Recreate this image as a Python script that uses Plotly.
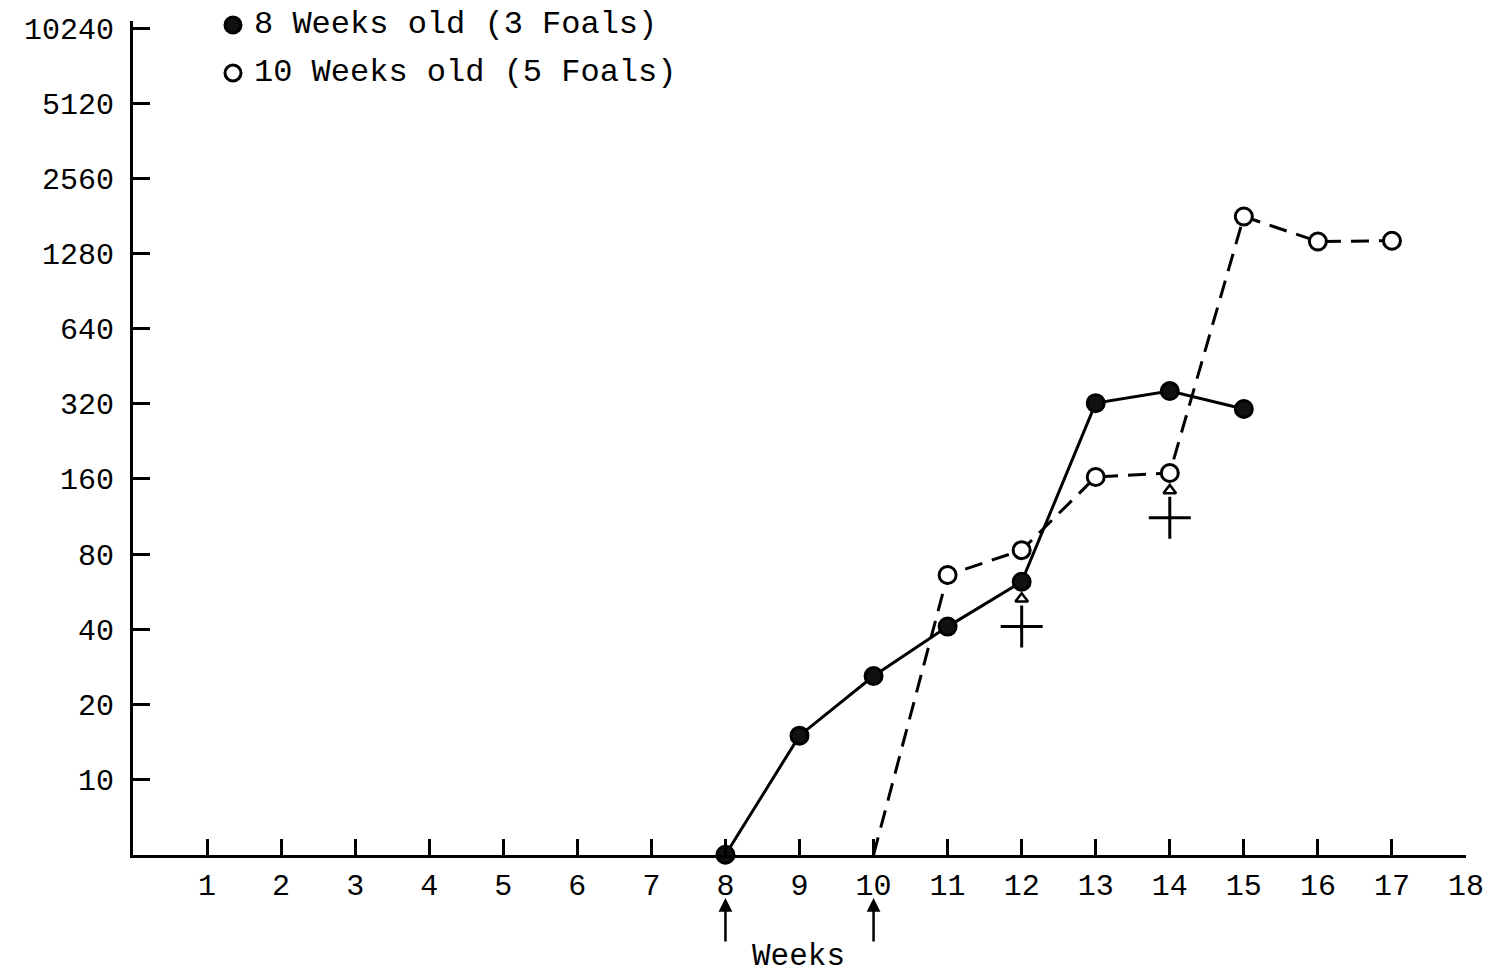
import math
import plotly.graph_objects as go

# ---- data ----
weeks_8wk = [8, 9, 10, 11, 12, 13, 14, 15]
titer_8wk = [5, 15, 26, 41, 62, 322, 360, 305]

weeks_10wk = [10, 11, 12, 13, 14, 15, 16, 17]
titer_10wk = [5, 66, 83, 163, 169, 1800, 1430, 1440]

death_weeks = [12, 14]
death_triangle_titer = [53, 144]
death_cross_titer = [41, 112]

vacc_weeks = [8, 10]

y_tick_vals = [10, 20, 40, 80, 160, 320, 640, 1280, 2560, 5120, 10240]
x_tick_vals = list(range(1, 19))

legend_labels = ["8 Weeks old (3 Foals)", "10 Weeks old (5 Foals)"]

FONT = "Liberation Mono"
BLACK = "#000000"

L, R, T, B = 133, 27, 21, 120
W, H = 1493, 975
PW, PH = W - L - R, H - T - B


def px_to_xdata(px):
    return (px - L) / PW * 18


def py_to_paper(py):
    return (H - B - py) / PH


fig = go.Figure()

# 8-week series (solid)
fig.add_trace(go.Scatter(
    x=weeks_8wk, y=titer_8wk, mode="lines",
    line=dict(color=BLACK, width=3),
    cliponaxis=False, showlegend=False))
fig.add_trace(go.Scatter(
    x=weeks_8wk, y=titer_8wk, mode="markers",
    marker=dict(symbol="circle", size=17, color="#111111",
                line=dict(color=BLACK, width=3)),
    cliponaxis=False, showlegend=False))

# 10-week series (dashed)
fig.add_trace(go.Scatter(
    x=weeks_10wk, y=titer_10wk, mode="lines",
    line=dict(color=BLACK, width=3, dash="18px,10px"),
    cliponaxis=False, showlegend=False))
fig.add_trace(go.Scatter(
    x=weeks_10wk[1:], y=titer_10wk[1:], mode="markers",
    marker=dict(symbol="circle", size=17, color="white",
                line=dict(color=BLACK, width=3)),
    cliponaxis=False, showlegend=False))

# death marks: small triangle with a cross below
fig.add_trace(go.Scatter(
    x=death_weeks, y=death_triangle_titer, mode="markers",
    marker=dict(symbol="triangle-up-open", size=11, color=BLACK,
                line=dict(color=BLACK, width=2.5)),
    showlegend=False))
fig.add_trace(go.Scatter(
    x=death_weeks, y=death_cross_titer, mode="markers",
    marker=dict(symbol="cross-thin-open", size=30, color=BLACK,
                line=dict(color=BLACK, width=3)),
    showlegend=False))

# vaccination arrows below axis
for w in vacc_weeks:
    fig.add_annotation(x=w, xref="x", y=py_to_paper(898), yref="paper",
                       ax=0, ay=45, text="", showarrow=True,
                       arrowhead=2, arrowsize=1.1, arrowwidth=2.5,
                       arrowcolor=BLACK)

# legend (manual)
legend_y_px = [25, 73]
fills = ["#111111", "white"]
for lbl, ypx, fc in zip(legend_labels, legend_y_px, fills):
    yp = py_to_paper(ypx)
    fig.add_shape(type="circle", xref="x", yref="paper",
                  xsizemode="pixel", ysizemode="pixel",
                  xanchor=px_to_xdata(233), yanchor=yp,
                  x0=-8, x1=8, y0=-8, y1=8,
                  fillcolor=fc, line=dict(color=BLACK, width=3))
    fig.add_annotation(x=px_to_xdata(252), xref="x", y=yp, yref="paper",
                       text=lbl, showarrow=False, xanchor="left",
                       yanchor="middle",
                       font=dict(family=FONT, size=32, color=BLACK))

# axis titles
fig.add_annotation(x=px_to_xdata(29), xref="x", y=py_to_paper(447), yref="paper",
                   text="Antibody Titer", textangle=-90, showarrow=False,
                   xanchor="center", yanchor="middle",
                   font=dict(family=FONT, size=31, color=BLACK))
fig.add_annotation(x=px_to_xdata(798), xref="x", y=py_to_paper(957), yref="paper",
                   text="Weeks", showarrow=False,
                   xanchor="center", yanchor="middle",
                   font=dict(family=FONT, size=31, color=BLACK))

ytop = math.log10(10240 * 2 ** (7 / 75))
fig.update_layout(
    width=W, height=H,
    margin=dict(l=L, r=R, t=T, b=B),
    paper_bgcolor="white", plot_bgcolor="white",
    font=dict(family=FONT, size=30, color=BLACK),
    xaxis=dict(range=[0, 18], tickvals=x_tick_vals,
               ticktext=[str(v) for v in x_tick_vals],
               ticks="inside", ticklen=16, tickwidth=2.5, tickcolor=BLACK,
               showline=True, linewidth=3, linecolor=BLACK,
               showgrid=False, zeroline=False, ticklabelstandoff=1,
               automargin=False),
    yaxis=dict(type="log", range=[math.log10(4.99), ytop],
               tickvals=y_tick_vals, ticktext=[str(v) for v in y_tick_vals],
               ticks="inside", ticklen=17, tickwidth=2.5, tickcolor=BLACK,
               showline=True, linewidth=3, linecolor=BLACK,
               showgrid=False, zeroline=False, ticklabelstandoff=10,
               automargin=False),
)

fig.write_html("out.html")
